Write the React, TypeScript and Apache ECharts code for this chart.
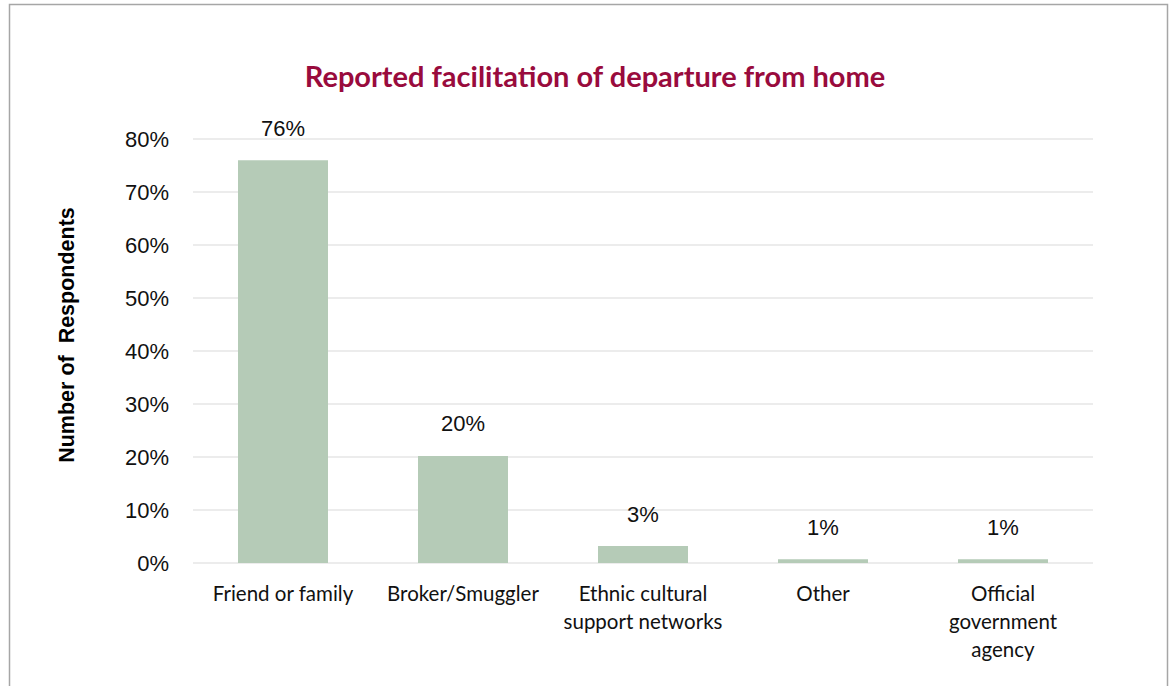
import React, { useEffect, useRef } from "react";
import * as echarts from "echarts";

const categories = [
  "Friend or family",
  "Broker/Smuggler",
  "Ethnic cultural\nsupport networks",
  "Other",
  "Official\ngovernment\nagency",
];
const values = [76, 20.2, 3.2, 0.7, 0.7];
const titleText = "Reported facilitation of departure from home";
const yAxisTitle = "Number of  Respondents";

export default function App() {
  const ref = useRef<HTMLDivElement>(null);
  useEffect(() => {
    if (!ref.current) return;
    const chart = echarts.init(ref.current, null, { renderer: "svg" });
    chart.setOption({
      animation: false,
      backgroundColor: "#ffffff",
      title: {
        text: titleText,
        left: 590,
        top: 56,
        textAlign: "center",
        textStyle: {
          fontFamily: "Lato",
          fontWeight: "bold",
          fontSize: 29,
          color: "#990b3d",
        },
      },
      graphic: [
        {
          type: "rect",
          shape: { x: 9.5, y: 4.5, width: 1158, height: 720 },
          style: { fill: "none", stroke: "#a6a6a6", lineWidth: 1.5 },
          silent: true,
        },
        {
          type: "text",
          x: 67,
          y: 335,
          rotation: Math.PI / 2,
          style: {
            text: yAxisTitle,
            fontFamily: "Liberation Sans",
            fontWeight: "bold",
            fontSize: 21.5,
            fill: "#000",
            align: "center",
            verticalAlign: "middle",
          },
        },
      ],
      grid: { left: 193, right: 79, top: 139, bottom: 123 },
      xAxis: {
        type: "category",
        data: categories,
        axisLine: { show: false },
        axisTick: { show: false },
        axisLabel: {
          fontFamily: "Lato",
          fontSize: 20.5,
          color: "#111",
          lineHeight: 28,
          margin: 16,
          interval: 0,
        },
      },
      yAxis: {
        type: "value",
        min: 0,
        max: 80,
        interval: 10,
        axisLine: { show: false },
        axisTick: { show: false },
        axisLabel: {
          formatter: "{value}%",
          fontFamily: "Liberation Sans",
          fontSize: 22,
          color: "#111",
          margin: 24,
        },
        splitLine: { lineStyle: { color: "#ececec", width: 2 } },
      },
      series: [
        {
          type: "bar",
          data: values,
          barWidth: "50%",
          itemStyle: { color: "#b5cbb7" },
          label: {
            show: true,
            position: "top",
            distance: 21,
            fontFamily: "Liberation Sans",
            fontSize: 22,
            color: "#111",
            formatter: (p: any) => Math.round(p.value) + "%",
          },
        },
      ],
    });
    return () => chart.dispose();
  }, []);
  return (
    <div
      ref={ref}
      style={{ position: "fixed", left: 0, top: 0, width: 1172, height: 686 }}
    />
  );
}
